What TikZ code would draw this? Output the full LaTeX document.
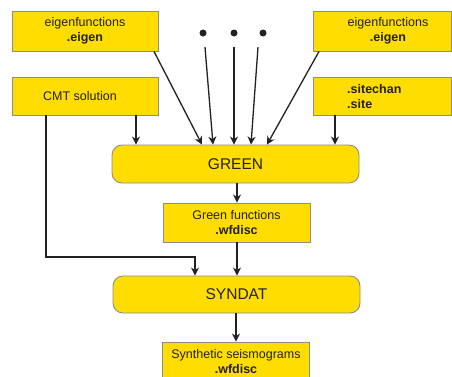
\documentclass[tikz,border=0pt]{standalone}
\usepackage{fontspec}
\setmainfont{Liberation Sans}
\usetikzlibrary{arrows.meta}
\definecolor{boxyellow}{RGB}{255,221,0}
\definecolor{boxborder}{RGB}{140,140,140}
\definecolor{ink}{RGB}{34,34,34}
\begin{document}
\begin{tikzpicture}[x=1pt,y=-1pt,
  box/.style={draw=boxborder, fill=boxyellow, line width=0.9pt, inner sep=0pt, text=ink,
    font=\fontsize{12.5}{15}\selectfont, align=center},
  lbl/.style={inner sep=0pt, text=ink, font=\fontsize{12.5}{15}\selectfont},
  prog/.style={draw=boxborder, fill=boxyellow, line width=0.9pt, rounded corners=10pt,
    inner sep=0pt, text=ink, font=\fontsize{15.5}{18}\selectfont},
  conn/.style={draw=ink, line width=1.3pt, -{Stealth[length=8pt,width=8pt,inset=2.5pt]}},
  dot/.style={circle, fill=ink, inner sep=0pt, minimum size=7pt}]
\useasboundingbox (0,0) rectangle (452,376);
\fill[white] (0,0) rectangle (452,376);

% top row
\node[box, minimum width=146pt, minimum height=40pt] (el) at (85,31) {eigenfunctions\\\textbf{.eigen}};
\node[box, minimum width=138pt, minimum height=40pt] (er) at (382,31) {};
\node[lbl, align=center] (ert) at (388,31) {eigenfunctions\\\textbf{.eigen}};

\node[dot] (d1) at (203,33) {};
\node[dot] (d2) at (234,33) {};
\node[dot] (d3) at (263,33) {};

% second row
\node[box, minimum width=146pt, minimum height=38pt] (cmt) at (85,96) {};
\node[lbl] (cmtt) at (80,96) {CMT solution};
\node[box, minimum width=138pt, minimum height=38pt] (es) at (382,96) {};
\node[lbl, align=left, anchor=west] (est) at (347,97) {\textbf{.sitechan}\\\textbf{.site}};

% programs and outputs
\node[prog, minimum width=247pt, minimum height=38pt] (green) at (235.5,164) {GREEN};
\node[box, minimum width=147pt, minimum height=39pt] (gf) at (236.5,222.5) {Green functions\\\textbf{.wfdisc}};
\node[prog, minimum width=247pt, minimum height=37pt] (syn) at (236.5,294.5) {SYNDAT};
\node[box, minimum width=147pt, minimum height=39pt] (synth) at (236,361.5) {Synthetic seismograms\\\textbf{.wfdisc}};

\coordinate (bend) at (195,257);

% connectors into GREEN
\draw[conn] (154,0 |- el.south) -- (202,0 |- green.north);
\draw[conn] ([shift={(2,14)}]d1.center) -- (213,0 |- green.north);
\draw[conn] ([shift={(0,14)}]d2.center) -- (234,0 |- green.north);
\draw[conn] ([shift={(-5,14)}]d3.center) -- (251,0 |- green.north);
\draw[conn] (319,0 |- er.south) -- (267,0 |- green.north);
\draw[conn] (136,0 |- cmt.south) -- (136,0 |- green.north);
\draw[conn] (335,0 |- es.south) -- (335,0 |- green.north);

% lower chain
\draw[conn] (237,0 |- green.south) -- (237,0 |- gf.north);
\draw[conn] (237,0 |- gf.south) -- (237,0 |- syn.north);
\draw[conn] (46,0 |- cmt.south) |- (bend) -- (195,0 |- syn.north);
\draw[conn] (236,0 |- syn.south) -- (236,0 |- synth.north);
\end{tikzpicture}
\end{document}
